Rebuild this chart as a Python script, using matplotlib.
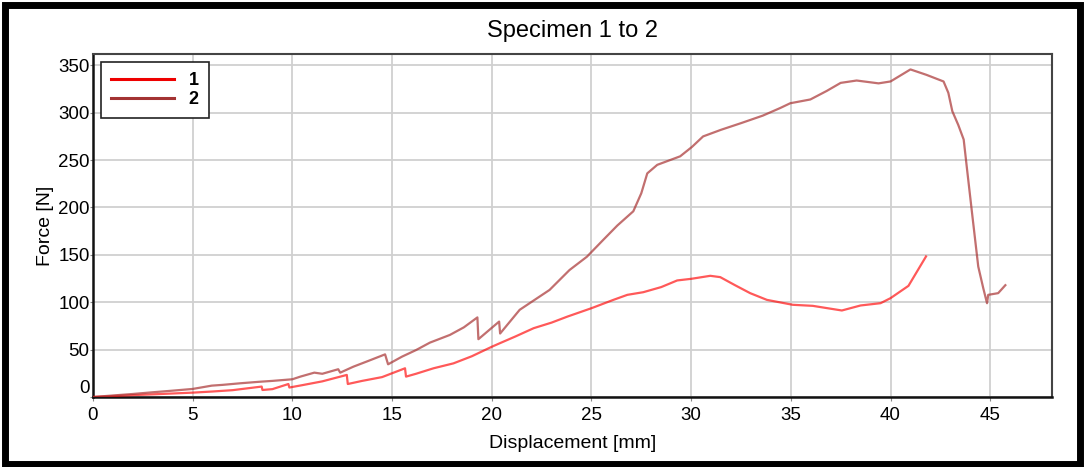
import matplotlib.pyplot as plt
from matplotlib.patches import Rectangle

plt.rcParams['font.family'] = ['Liberation Sans', 'DejaVu Sans']

# 试样 1
disp_1 = [0, 1, 2, 3, 4, 5, 6, 7, 8.0, 8.46, 8.5, 9.0, 9.8, 9.85, 10.5, 11.5, 12.73, 12.78,
          13.5, 14.5, 15.65, 15.7, 16.2, 17.08, 18.08, 19.0, 20.0, 20.4, 21.2, 22.1, 23.0,
          23.8, 25.0, 26.1, 26.8, 27.6, 28.5, 29.3, 30.0, 30.96, 31.46, 32.2, 32.96, 33.8,
          35.1, 36.1, 36.9, 37.56, 38.5, 39.5, 40.0, 40.9, 41.78]
force_1 = [0, 1.0, 2.0, 2.8, 3.7, 4.6, 5.8, 7.2, 9.8, 11.0, 7.4, 8.3, 13.7, 10.0, 12.5, 16.5,
           23.3, 13.7, 17.0, 21.0, 30.3, 21.5, 24.5, 30.3, 35.5, 43.0, 53.0, 56.7, 64.0,
           72.6, 78.5, 84.9, 93.7, 102.5, 107.8, 110.6, 116.0, 123.0, 124.7, 127.9, 126.5,
           118.0, 109.6, 102.5, 97.3, 96.2, 93.5, 91.3, 96.6, 99.0, 104.3, 117.3, 148.3]

# 试样 2
disp_2 = [0, 1, 2, 3, 4, 5, 5.96, 6.5, 7.4, 8.3, 9.0, 10.0, 10.4, 11.1, 11.5, 12.3, 12.4,
          13.06, 13.8, 14.65, 14.8, 15.5, 16.2, 16.9, 17.9, 18.6, 19.28, 19.33, 20.37, 20.42,
          21.4, 22.9, 23.9, 24.77, 25.6, 26.3, 27.1, 27.5, 27.8, 28.3, 29.45, 30.04, 30.6,
          31.5, 32.5, 33.6, 34.47, 34.97, 35.98, 36.8, 37.5, 38.3, 39.4, 40.0, 41.0, 41.8,
          42.66, 42.9, 43.1, 43.4, 43.67, 43.84, 44.09, 44.4, 44.65, 44.84, 44.9, 45.4, 45.76]
force_2 = [0, 1.6, 3.2, 5.0, 6.7, 8.5, 12.0, 12.8, 14.5, 16.0, 17.0, 18.7, 21.5, 25.7, 24.5,
           29.3, 25.7, 32.0, 38.0, 45.0, 34.5, 42.6, 49.5, 57.4, 65.5, 73.5, 84.0, 61.0,
           79.6, 67.0, 92.0, 113.0, 134.0, 148.0, 166.0, 181.0, 196.0, 215.0, 236.0, 245.0,
           254.0, 263.9, 275.0, 282.0, 289.0, 297.0, 305.0, 310.0, 314.0, 323.0, 331.5,
           334.0, 331.0, 333.0, 345.7, 340.0, 333.0, 321.0, 301.6, 287.0, 271.7, 240.0,
           194.0, 137.7, 115.0, 99.0, 107.8, 109.6, 118.0]

fig = plt.figure(figsize=(10.85, 4.67), dpi=100)
ax = fig.add_axes([0.0857, 0.1499, 0.8839, 0.7345])

ax.plot(disp_1, force_1, color='#ff0000', lw=1.6, alpha=0.65, label='1', zorder=3)
ax.plot(disp_2, force_2, color='#a83232', lw=1.6, alpha=0.7, label='2', zorder=3)

ax.set_xlim(0, 48.1)
ax.set_ylim(0, 362)
ax.set_xticks(range(0, 50, 5))
ax.set_yticks(range(0, 400, 50))
ax.grid(True, color='#d0d0d0', lw=1.3)
ax.set_axisbelow(True)
ax.tick_params(axis='x', labelsize=13.5, length=3, color='#888888', pad=4)
ax.tick_params(axis='y', labelsize=13.5, length=2, color='#888888', pad=0.5)
ax.get_yticklabels()[0].set_va('bottom')

for side in ['left', 'bottom']:
    ax.spines[side].set_color('#111111')
    ax.spines[side].set_linewidth(1.8)
for side in ['top', 'right']:
    ax.spines[side].set_color('#444444')
    ax.spines[side].set_linewidth(1.5)

ax.set_title('Specimen 1 to 2', fontsize=17, pad=12)
ax.set_xlabel('Displacement [mm]', fontsize=14, labelpad=8)
ax.set_ylabel('Force [N]', fontsize=14, labelpad=3)

leg = ax.legend(loc='upper left', fancybox=False, edgecolor='#222222', framealpha=1,
                prop={'weight': 'bold', 'size': 13}, handlelength=3.5,
                borderaxespad=0.45, labelspacing=0.1, borderpad=0.55)
leg.get_frame().set_linewidth(1.2)
leg.legend_handles[0].set_color('#ee0000')
leg.legend_handles[0].set_alpha(1)
leg.legend_handles[1].set_color('#a33333')
leg.legend_handles[1].set_alpha(1)
for h in leg.legend_handles:
    h.set_linewidth(2.2)

# 外框
fig.patches.append(Rectangle((0.005, 0.007), 0.99, 0.983, transform=fig.transFigure,
                             fill=False, edgecolor='black', lw=5))

fig.savefig('out.png', dpi=100)
